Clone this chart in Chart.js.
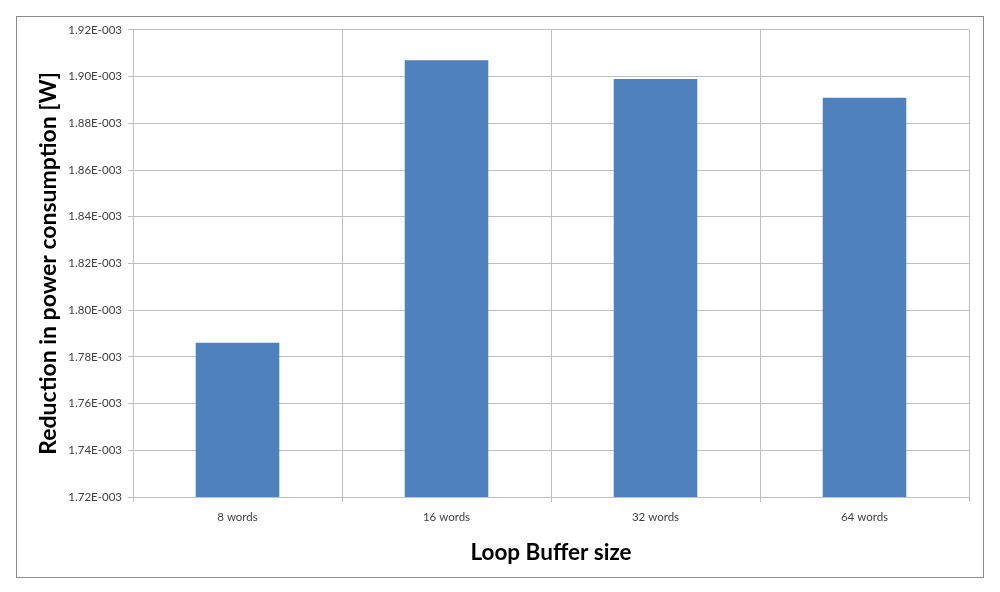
<!DOCTYPE html>
<html>
<head>
<meta charset="utf-8">
<script src="https://cdn.jsdelivr.net/npm/chart.js@4"></script>
<style>
  html, body { margin: 0; padding: 0; background: #fff; }
  #frame {
    position: absolute; left: 16px; top: 16px;
    width: 968px; height: 562px;
    border: 1px solid #8c8c8c; box-sizing: border-box;
  }
</style>
</head>
<body>
<div id="frame"><canvas id="chart" width="966" height="560"></canvas></div>
<script>
// categories and values
const categories = ['8 words', '16 words', '32 words', '64 words'];
const reduction = [1.786e-3, 1.907e-3, 1.899e-3, 1.891e-3];
const yMin = 1.72e-3, yMax = 1.92e-3, yStep = 0.02e-3;

const fontFam = 'Lato, "Open Sans", sans-serif';

new Chart(document.getElementById('chart'), {
  type: 'bar',
  data: {
    labels: categories,
    datasets: [{
      label: 'Reduction',
      data: reduction,
      backgroundColor: '#4f81bd',
      borderWidth: 0,
      barPercentage: 0.4,
      categoryPercentage: 1.0
    }]
  },
  options: {
    responsive: false,
    animation: false,
    layout: { padding: { left: 0, right: 14, top: 6, bottom: 0 } },
    plugins: {
      legend: { display: false },
      tooltip: { enabled: false }
    },
    scales: {
      x: {
        grid: { color: '#bfbfbf', offset: true, tickLength: 5 },
        border: { color: '#bfbfbf' },
        ticks: { color: '#404040', font: { family: fontFam, size: 11.5 }, padding: 8 },
        title: {
          display: true, text: 'Loop Buffer size', color: '#000',
          font: { family: fontFam, size: 22.5, weight: 'bold' },
          padding: { top: 14, bottom: 11 }
        },
        afterFit: s => { s.height = 80; }
      },
      y: {
        min: yMin, max: yMax,
        grid: { color: '#bfbfbf', tickLength: 5 },
        border: { color: '#bfbfbf' },
        ticks: {
          stepSize: yStep,
          color: '#404040',
          font: { family: fontFam, size: 11.5 },
          padding: 6,
          callback: v => (v * 1000).toFixed(2) + 'E-003'
        },
        title: {
          display: true, text: 'Reduction in power consumption [W]', color: '#000',
          font: { family: fontFam, size: 23, weight: 'bold' },
          padding: { top: 18, bottom: 8 }
        },
        afterFit: s => { s.width = 116; }
      }
    }
  }
});
</script>
</body>
</html>
